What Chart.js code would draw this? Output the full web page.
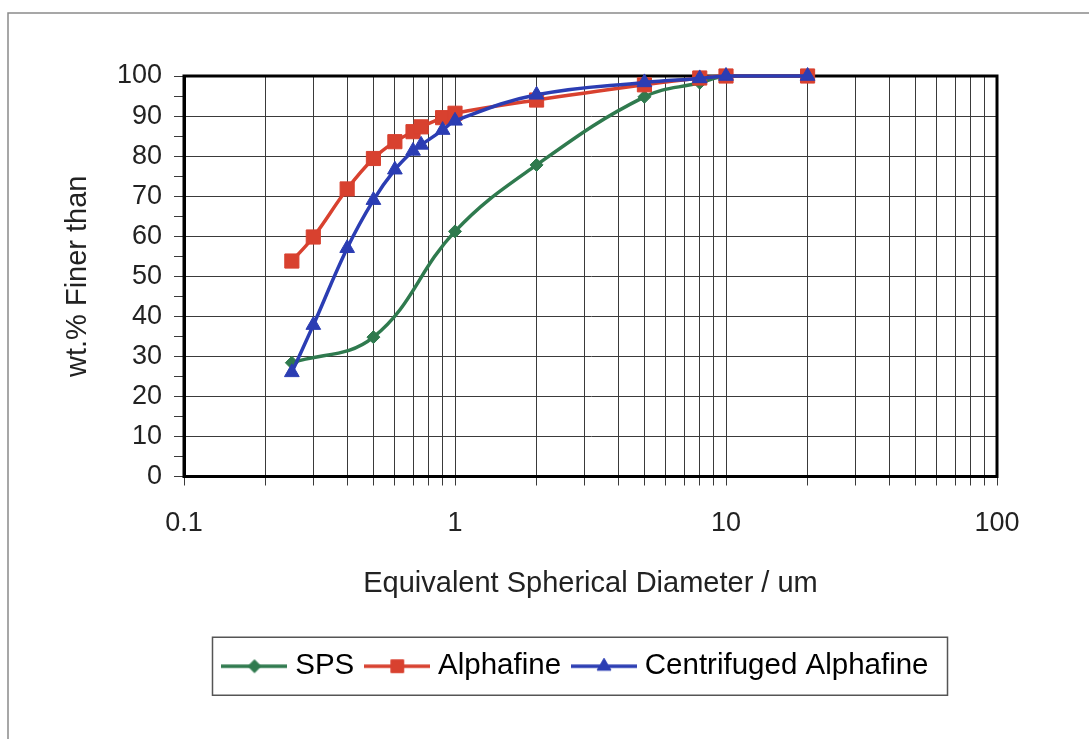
<!DOCTYPE html>
<html>
<head>
<meta charset="utf-8">
<title>Particle size distribution</title>
<script src="https://cdn.jsdelivr.net/npm/chart.js"></script>
<style>
  html, body { margin: 0; padding: 0; background: #fff; }
  canvas { display: block; }
</style>
</head>
<body>
<canvas id="psdChart" width="1089" height="739"></canvas>
<script>
// equivalent spherical diameter (um) and wt.% finer than
const spsSizes = [0.25, 0.5, 1, 2, 5, 8, 10, 20];
const spsFiner = [28.4, 34.8, 61.2, 77.8, 94.8, 98.3, 100, 100];

const alphaSizes = [0.25, 0.3, 0.4, 0.5, 0.6, 0.7, 0.75, 0.9, 1, 2, 5, 8, 10, 20];
const alphaFiner = [53.8, 59.8, 71.8, 79.4, 83.6, 86.1, 87.3, 89.6, 90.7, 94.0, 97.8, 99.5, 100, 100];

const centSizes = [0.25, 0.3, 0.4, 0.5, 0.6, 0.7, 0.75, 0.9, 1, 2, 5, 8, 10, 20];
const centFiner = [26.0, 37.8, 57.0, 69.0, 76.6, 81.3, 82.8, 86.5, 88.8, 95.3, 98.4, 99.4, 100, 100];

const xTickValues = [0.1, 1, 10, 100];
const xTickLabels = ['0.1', '1', '10', '100'];

const FONT = '"Liberation Sans", Arial, sans-serif';
const GRID = '#3a3a3a';
const LEGEND_PAD = 17;
const LEGEND_FONT = 29.5;
const legendShift = 75;

function toPoints(xs, ys) {
  return xs.map((x, i) => ({ x: x, y: ys[i] }));
}

// x grid: 1..9 in every decade
const xGrid = [];
for (let d = 0; d < xTickValues.length - 1; d++) {
  for (let k = 1; k < 10; k++) xGrid.push(Number((k * xTickValues[d]).toPrecision(6)));
}
xGrid.push(xTickValues[xTickValues.length - 1]);

const series = [
  { label: 'SPS', color: '#2f7a4e', style: 'rectRot', radius: 6.5, legendRadius: 6.5, xs: spsSizes, ys: spsFiner, order: 3 },
  { label: 'Alphafine', color: '#d8412f', style: 'rect', radius: 10, legendRadius: 9, xs: alphaSizes, ys: alphaFiner, order: 2 },
  { label: 'Centrifuged Alphafine', color: '#2b3db3', style: 'triangle', radius: 8.5, legendRadius: 8, xs: centSizes, ys: centFiner, order: 1 }
];

function legendIcon(s) {
  const c = document.createElement('canvas');
  c.width = 66; c.height = 24;
  const g = c.getContext('2d');
  g.strokeStyle = s.color;
  g.lineWidth = 3.5;
  g.beginPath(); g.moveTo(0, 12); g.lineTo(66, 12); g.stroke();
  g.fillStyle = s.color;
  g.lineWidth = 1;
  Chart.helpers.drawPoint(g, { pointStyle: s.style, radius: s.legendRadius, borderWidth: 1 }, 33, 12);
  return c;
}

const frame = {
  id: 'frame',
  afterUpdate(chart) {
    const lg = chart.legend;
    lg.left += legendShift;
    lg.right += legendShift;
    lg.adjustHitBoxes();
  },
  beforeDraw(chart) {
    const ctx = chart.ctx;
    ctx.save();
    ctx.strokeStyle = '#8a8a8a';
    ctx.lineWidth = 1.5;
    ctx.beginPath();
    ctx.moveTo(8, chart.height);
    ctx.lineTo(8, 13);
    ctx.lineTo(chart.width, 13);
    ctx.stroke();
    ctx.restore();
  },
  beforeDatasetsDraw(chart) {
    const a = chart.chartArea, ctx = chart.ctx;
    ctx.save();
    ctx.strokeStyle = '#000';
    ctx.lineWidth = 3;
    ctx.strokeRect(a.left, a.top, a.right - a.left, a.bottom - a.top);
    ctx.restore();
  },
  afterDraw(chart) {
    // box round the legend row
    const lg = chart.legend;
    const lw = lg.lineWidths[0];
    const startX = (lg.left + LEGEND_PAD + lg.right - lw) / 2;
    const x0 = startX - 7 - 9;
    const x1 = startX + lw - LEGEND_PAD + 19;
    const cy = lg.top + LEGEND_PAD + LEGEND_FONT / 2;
    const ctx = chart.ctx;
    ctx.save();
    ctx.strokeStyle = '#555';
    ctx.lineWidth = 1.5;
    ctx.strokeRect(x0, cy - 29, x1 - x0, 58);
    ctx.restore();
  }
};

new Chart(document.getElementById('psdChart'), {
  type: 'line',
  data: {
    datasets: series.map(s => ({
      label: s.label,
      data: toPoints(s.xs, s.ys),
      borderColor: s.color,
      backgroundColor: s.color,
      borderWidth: 3.5,
      pointStyle: s.style,
      pointRadius: s.radius,
      pointBorderWidth: 1,
      pointBackgroundColor: s.color,
      pointBorderColor: s.color,
      tension: 0.4,
      clip: false,
      order: s.order
    }))
  },
  options: {
    responsive: false,
    animation: false,
    layout: { padding: { left: 10, top: 76, right: 92, bottom: 48 } },
    plugins: {
      tooltip: { enabled: false },
      legend: {
        position: 'bottom',
        align: 'center',
        labels: {
          usePointStyle: true,
          pointStyleWidth: 52,
          padding: LEGEND_PAD,
          color: '#222',
          font: { family: FONT, size: LEGEND_FONT },
          generateLabels(chart) {
            return series.map((s, i) => ({
              text: s.label,
              datasetIndex: i,
              pointStyle: legendIcon(s),
              fillStyle: s.color,
              strokeStyle: s.color,
              lineWidth: 0,
              hidden: false
            }));
          }
        }
      }
    },
    scales: {
      x: {
        type: 'logarithmic',
        min: xTickValues[0],
        max: xTickValues[xTickValues.length - 1],
        afterBuildTicks(axis) {
          axis.ticks = xGrid.map(v => ({ value: v }));
        },
        afterFit(axis) { axis.height = 158; },
        ticks: {
          autoSkip: false,
          maxRotation: 0,
          padding: 22,
          color: '#222',
          font: { family: FONT, size: 27 },
          callback(value) {
            const i = xTickValues.findIndex(t => Math.abs(t - value) < 1e-9);
            return i >= 0 ? xTickLabels[i] : '';
          }
        },
        grid: { color: GRID, lineWidth: 1, tickLength: 9, tickColor: GRID },
        border: { color: '#000', width: 3 },
        title: {
          display: true,
          text: 'Equivalent Spherical Diameter / um',
          color: '#222',
          font: { family: FONT, size: 29 },
          padding: { top: 0, bottom: 33 }
        }
      },
      y: {
        min: 0,
        max: 100,
        afterFit(axis) { axis.width = 174; },
        ticks: {
          stepSize: 5,
          autoSkip: false,
          padding: 12,
          color: '#222',
          font: { family: FONT, size: 27 },
          callback(value) { return value % 10 === 0 ? String(value) : ''; }
        },
        grid: {
          color: c => (c.tick && c.tick.value % 10 === 0 ? GRID : 'rgba(0,0,0,0)'),
          lineWidth: 1,
          tickLength: 10,
          tickColor: GRID
        },
        border: { color: '#000', width: 3 },
        title: {
          display: true,
          text: 'wt.% Finer than',
          color: '#222',
          font: { family: FONT, size: 29 },
          padding: { top: 51, bottom: 0 }
        }
      }
    }
  },
  plugins: [frame]
});
</script>
</body>
</html>
